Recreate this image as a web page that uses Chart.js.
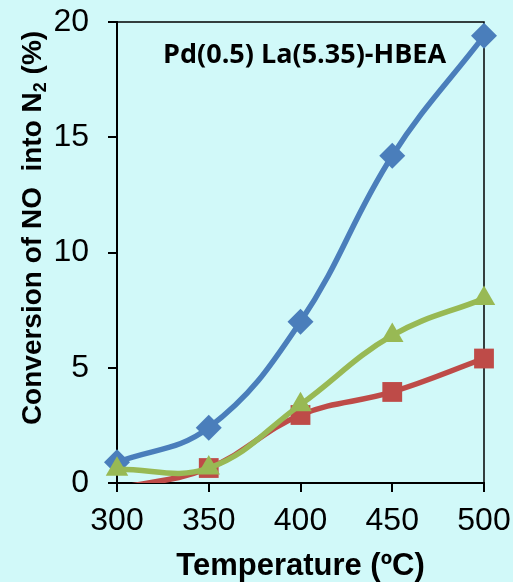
<!DOCTYPE html>
<html>
<head>
<meta charset="utf-8">
<script src="https://cdn.jsdelivr.net/npm/chart.js@4.4.0/dist/chart.umd.min.js"></script>
<style>
  html, body { margin: 0; padding: 0; background: #d1f9f9; }
  #wrap { width: 513px; height: 582px; }
</style>
</head>
<body>
<div id="wrap"><canvas id="chart" width="513" height="582"></canvas></div>
<script>
// temperatures (ºC) and conversion of NO into N2 (%)
const temps = [300, 350, 400, 450, 500];
const seriesBlue = [0.9, 2.4, 7.0, 14.2, 19.4];
const seriesRed = [-0.25, 0.65, 2.95, 3.95, 5.4];
const seriesGreen = [0.6, 0.65, 3.4, 6.4, 8.0];
const yTicks = [0, 5, 10, 15, 20];
const chartTitle = "Pd(0.5) La(5.35)-HBEA";

const FONT = "'Liberation Sans', Arial, sans-serif";

// frame around the plot, catalyst label and both axis titles
const framePlugin = {
  id: "frame",
  beforeDatasetsDraw(chart) {
    const { ctx, chartArea: a } = chart;
    ctx.save();
    ctx.strokeStyle = "#000";
    ctx.lineWidth = 1.5;
    ctx.beginPath();
    ctx.moveTo(a.left, a.top);
    ctx.lineTo(a.right, a.top);
    ctx.lineTo(a.right, a.bottom);
    ctx.stroke();
    ctx.restore();
  },
  afterDatasetsDraw(chart) {
    const { ctx, chartArea: a } = chart;
    ctx.save();
    ctx.fillStyle = "#000";
    ctx.textBaseline = "alphabetic";
    ctx.font = "bold 27px 'Open Sans', sans-serif";
    ctx.fillText(chartTitle, a.left + 46, a.top + 41);

    // x title
    ctx.font = "bold 31px " + FONT;
    ctx.textAlign = "center";
    ctx.fillText("Temperature (ºC)", (a.left + a.right) / 2, 575);

    // y title with subscript 2
    const main = "Conversion of NO  into N";
    const tail = " (%)";
    const big = "bold 28px " + FONT;
    const small = "bold 18px " + FONT;
    ctx.font = big;
    const w1 = ctx.measureText(main).width;
    const w3 = ctx.measureText(tail).width;
    ctx.font = small;
    const w2 = ctx.measureText("2").width;
    const total = w1 + w2 + w3;
    ctx.translate(41, 228);
    ctx.rotate(-Math.PI / 2);
    ctx.textAlign = "left";
    let x = -total / 2;
    ctx.font = big;
    ctx.fillText(main, x, 0);
    x += w1;
    ctx.font = small;
    ctx.fillText("2", x, 5);
    x += w2;
    ctx.font = big;
    ctx.fillText(tail, x, 0);
    ctx.restore();
  },
};

const mk = (data, color, style, radius) => ({
  data: temps.map((t, i) => ({ x: t, y: data[i] })),
  borderColor: color,
  backgroundColor: color,
  borderWidth: 5.5,
  pointStyle: style,
  // points that fall below the axis are cut off
  pointRadius: (c) => (c.raw && c.raw.y < 0 ? 0 : radius),
  pointHoverRadius: radius,
  pointBorderWidth: 0,
  tension: 0.4,
  // markers may spill over the frame, lines stop at the x axis
  clip: { left: 16, right: 16, top: 16, bottom: 0 },
});

// fixed scale boxes so the plot area lands where it should
const noPad = (s) => {
  s.paddingLeft = 0;
  s.paddingRight = 0;
  s.paddingTop = 0;
  s.paddingBottom = 0;
};

new Chart(document.getElementById("chart"), {
  type: "line",
  data: {
    datasets: [
      mk(seriesGreen, "#98b954", "triangle", 13),
      mk(seriesBlue, "#4a7ebb", "rectRot", 13),
      mk(seriesRed, "#be4b48", "rect", 14),
    ],
  },
  options: {
    responsive: false,
    animation: false,
    layout: { autoPadding: false, padding: { left: 0, right: 29, top: 22, bottom: 0 } },
    plugins: { legend: { display: false }, tooltip: { enabled: false } },
    scales: {
      x: {
        type: "linear",
        min: 300,
        max: 500,
        afterBuildTicks: (s) => { s.ticks = temps.map((v) => ({ value: v })); },
        afterFit: (s) => { s.height = 99; noPad(s); },
        grid: { drawOnChartArea: false, color: "#000", tickLength: 9, lineWidth: 2 },
        border: { color: "#000", width: 2 },
        ticks: { color: "#000", padding: 10, font: { family: FONT, size: 32 }, maxRotation: 0 },
      },
      y: {
        min: 0,
        max: 20,
        afterBuildTicks: (s) => { s.ticks = yTicks.map((v) => ({ value: v })); },
        afterFit: (s) => { s.width = 117; noPad(s); },
        grid: { drawOnChartArea: false, color: "#000", tickLength: 9, lineWidth: 2 },
        border: { color: "#000", width: 2 },
        ticks: { color: "#000", padding: 19, font: { family: FONT, size: 32 } },
      },
    },
  },
  plugins: [framePlugin],
});
</script>
</body>
</html>
